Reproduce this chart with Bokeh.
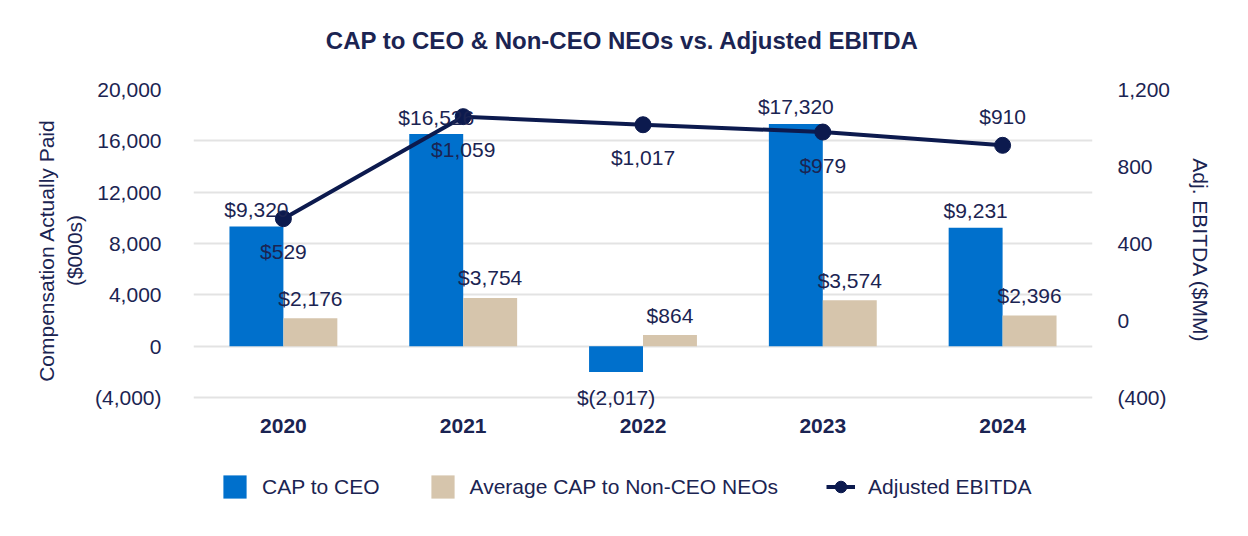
from bokeh.plotting import figure
from bokeh.layouts import column
from bokeh.models import (ColumnDataSource, Range1d, FactorRange, LinearAxis, NumeralTickFormatter,
                          FixedTicker, Legend, LegendItem)
from bokeh.transform import dodge
from bokeh.core.properties import value
from bokeh.embed import file_html
from bokeh.resources import INLINE

# ---- data ----
years = ["2020", "2021", "2022", "2023", "2024"]
cap_ceo = [9320, 16526, -2017, 17320, 9231]
cap_neo = [2176, 3754, 864, 3574, 2396]
adj_ebitda = [529, 1059, 1017, 979, 910]
left_ticks = [-4000, 0, 4000, 8000, 12000, 16000, 20000]
right_ticks = [-400, 0, 400, 800, 1200]
series_names = ["CAP to CEO", "Average CAP to Non-CEO NEOs", "Adjusted EBITDA"]
chart_title = "CAP to CEO & Non-CEO NEOs vs. Adjusted EBITDA"

NAVY = "#1B2452"
LINE = "#0C1A4E"
BLUE = "#0070CC"
BEIGE = "#D6C5AC"
FONT = "Liberation Sans"


def money(v):
    return "$({:,})".format(-v) if v < 0 else "${:,}".format(v)


src = ColumnDataSource(dict(
    years=years, ceo=cap_ceo, neo=cap_neo, ebitda=adj_ebitda,
    ceo_txt=[money(v) for v in cap_ceo],
    neo_txt=[money(v) for v in cap_neo],
    eb_txt=[money(v) for v in adj_ebitda],
    ceo_off=[-17 if v >= 0 else 25 for v in cap_ceo],
    neo_off=[-20 for v in cap_neo],
    eb_off=[33, 33, 33, 33, -29],
))

# layout geometry (pixels)
W = 1232
TF_H = 60             # title strip
LG_H = 70             # legend strip
H = 520 - TF_H - LG_H
LEFT, RIGHT = 193, 140
TOP = 89 - TF_H
GRID_H = 308          # pixel span from lowest to highest tick
EXTRA = 14            # room below the lowest gridline for the negative bar label
BOTTOM = H - TOP - GRID_H - EXTRA

lo, hi = left_ticks[0], left_ticks[-1]
rlo, rhi = right_ticks[0], right_ticks[-1]
y_lo = lo - EXTRA * (hi - lo) / GRID_H
ry_lo = rlo - EXTRA * (rhi - rlo) / GRID_H


def strip(height):
    f = figure(width=W, height=height, x_range=Range1d(LEFT, W - RIGHT), y_range=Range1d(0, height),
               output_backend="svg", toolbar_location=None,
               min_border_left=LEFT, min_border_right=RIGHT, min_border_top=0, min_border_bottom=0)
    f.axis.visible = False
    f.grid.visible = False
    f.outline_line_color = None
    return f


# title strip
tf = strip(TF_H)
tf.text(x=[622], y=[TF_H - 40], text=[chart_title], text_font=value(FONT), text_font_size="24px",
        text_font_style="bold", text_color=NAVY, text_align="center", text_baseline="middle")

p = figure(width=W, height=H, x_range=FactorRange(*years), y_range=Range1d(y_lo, hi),
           output_backend="svg", toolbar_location=None,
           min_border_left=LEFT, min_border_right=RIGHT, min_border_top=TOP, min_border_bottom=BOTTOM)
p.extra_y_ranges = {"eb": Range1d(ry_lo, rhi)}
p.outline_line_color = None
p.background_fill_color = "white"
p.border_fill_color = "white"

# bars
p.vbar(x=dodge("years", -0.15, range=p.x_range), top="ceo", bottom=0, width=0.3,
       source=src, fill_color=BLUE, line_color=None)
p.vbar(x=dodge("years", 0.15, range=p.x_range), top="neo", bottom=0, width=0.3,
       source=src, fill_color=BEIGE, line_color=None)
# line
p.line(x="years", y="ebitda", source=src, y_range_name="eb", line_color=LINE, line_width=4)
p.scatter(x="years", y="ebitda", source=src, y_range_name="eb", size=16,
          fill_color=LINE, line_color=LINE)

lab = dict(text_font=value(FONT), text_font_size="21px", text_color=NAVY,
           text_align="center", text_baseline="middle")
p.text(x=dodge("years", -0.15, range=p.x_range), y="ceo", text="ceo_txt", y_offset="ceo_off", source=src, **lab)
p.text(x=dodge("years", 0.15, range=p.x_range), y="neo", text="neo_txt", y_offset="neo_off", source=src, **lab)
p.text(x="years", y="ebitda", text="eb_txt", y_offset="eb_off", y_range_name="eb", source=src, **lab)

# axes
ax = p.yaxis[0]
ax.ticker = FixedTicker(ticks=left_ticks)
ax.formatter = NumeralTickFormatter(format="(0,0)")
ax.axis_label = "Compensation Actually Paid\n($000s)"
ax.axis_label_standoff = 6
ax.major_label_standoff = 26

rax = LinearAxis(y_range_name="eb", ticker=FixedTicker(ticks=right_ticks),
                 formatter=NumeralTickFormatter(format="(0,0)"))
rax.axis_label = "Adj. EBITDA ($MM)"
rax.axis_label_standoff = 16
rax.major_label_standoff = 19
p.add_layout(rax, "right")

for a in (ax, rax):
    a.axis_line_color = None
    a.major_tick_line_color = None
    a.minor_tick_line_color = None
    a.major_label_text_font = FONT
    a.major_label_text_font_size = "21px"
    a.major_label_text_color = NAVY
    a.axis_label_text_font = FONT
    a.axis_label_text_font_size = "21px"
    a.axis_label_text_font_style = "normal"
    a.axis_label_text_color = NAVY

xa = p.xaxis[0]
xa.axis_line_color = None
xa.major_tick_line_color = None
xa.minor_tick_line_color = None
xa.major_label_text_font = FONT
xa.major_label_text_font_size = "21px"
xa.major_label_text_font_style = "bold"
xa.major_label_text_color = NAVY
xa.major_label_standoff = 1

p.xgrid.grid_line_color = None
p.ygrid.grid_line_color = "#E3E3E3"
p.ygrid.grid_line_width = 2

# legend strip (holds only key swatches, placed outside its visible range)
lg = strip(LG_H)
offscreen = ColumnDataSource(dict(x=[-10], y=[-10]))
k1 = lg.vbar(x="x", top="y", width=0.1, source=offscreen, fill_color=BLUE, line_color=None)
k2 = lg.vbar(x="x", top="y", width=0.1, source=offscreen, fill_color=BEIGE, line_color=None)
k3 = lg.line(x="x", y="y", source=offscreen, line_color=LINE, line_width=4)
k4 = lg.scatter(x="x", y="y", source=offscreen, size=16, fill_color=LINE, line_color=LINE)

legend = Legend(items=[
    LegendItem(label=series_names[0], renderers=[k1]),
    LegendItem(label=series_names[1], renderers=[k2]),
    LegendItem(label=series_names[2], renderers=[k3, k4]),
], orientation="horizontal", location=(27, 19))
legend.border_line_color = None
legend.background_fill_alpha = 0
legend.label_text_font = FONT
legend.label_text_font_size = "21px"
legend.label_text_color = NAVY
legend.glyph_width = 29
legend.glyph_height = 29
legend.label_standoff = 13
legend.spacing = 48
legend.padding = 10
legend.margin = 0
lg.add_layout(legend, "center")

layout = column(tf, p, lg, spacing=0)
open("out.html", "w").write(file_html(layout, INLINE))
